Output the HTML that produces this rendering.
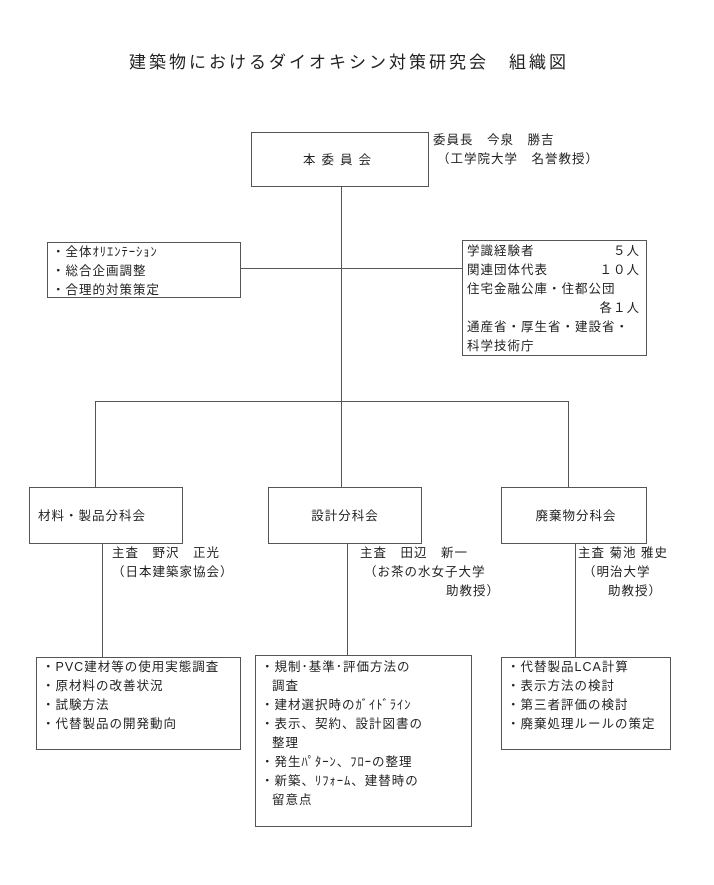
<!DOCTYPE html>
<html><head><meta charset="utf-8"><style>
html,body{margin:0;padding:0;background:#fff;}
svg text{font-family:"Liberation Sans","Noto Sans CJK JP",sans-serif;fill:#222;}
</style></head><body>
<svg width="714" height="880" viewBox="0 0 714 880" xmlns="http://www.w3.org/2000/svg">
<g stroke="#555" stroke-width="1" fill="none">
<rect x="251.5" y="132.5" width="177" height="54"/>
<rect x="47.5" y="242.5" width="193" height="55"/>
<rect x="462.5" y="240.5" width="184" height="115"/>
<line x1="341.5" y1="186" x2="341.5" y2="487"/>
<line x1="240" y1="268.5" x2="462" y2="268.5"/>
<line x1="95" y1="401.5" x2="568" y2="401.5"/>
<line x1="95.5" y1="401" x2="95.5" y2="487"/>
<line x1="568.5" y1="401" x2="568.5" y2="487"/>
<rect x="29.5" y="487.5" width="153" height="56"/>
<rect x="268.5" y="487.5" width="153" height="56"/>
<rect x="501.5" y="487.5" width="145" height="56"/>
<line x1="102.5" y1="543" x2="102.5" y2="657"/>
<line x1="347.5" y1="543" x2="347.5" y2="655"/>
<line x1="575.5" y1="543" x2="575.5" y2="657"/>
<rect x="36.5" y="657.5" width="204" height="92"/>
<rect x="255.5" y="655.5" width="216" height="171"/>
<rect x="501.5" y="657.5" width="169" height="92"/>
</g>
<text x="349" y="68" font-size="17" text-anchor="middle" letter-spacing="3">建築物におけるダイオキシン対策研究会　組織図</text>
<g font-size="12.5" letter-spacing="1">
<text x="340" y="164" text-anchor="middle" letter-spacing="6">本委員会</text>
<text x="433" y="144">委員長　今泉　勝吉</text>
<text x="437" y="163">（工学院大学　名誉教授）</text>
<text x="52" y="256">・全体ｵﾘｴﾝﾃｰｼｮﾝ</text>
<text x="52" y="275">・総合企画調整</text>
<text x="52" y="294">・合理的対策策定</text>
<text x="467" y="255">学識経験者</text><text x="640" y="255" text-anchor="end">５人</text>
<text x="467" y="274">関連団体代表</text><text x="640" y="274" text-anchor="end">１０人</text>
<text x="467" y="293">住宅金融公庫・住都公団</text>
<text x="640" y="312" text-anchor="end">各１人</text>
<text x="467" y="331">通産省・厚生省・建設省・</text>
<text x="467" y="350">科学技術庁</text>
<text x="38" y="520">材料・製品分科会</text>
<text x="345" y="520" text-anchor="middle">設計分科会</text>
<text x="576" y="520" text-anchor="middle">廃棄物分科会</text>
<text x="112" y="557">主査　野沢　正光</text>
<text x="112" y="576">（日本建築家協会）</text>
<text x="360" y="557">主査　田辺　新一</text>
<text x="364" y="576">（お茶の水女子大学</text>
<text x="446" y="595">助教授）</text>
<text x="578" y="557">主査 菊池 雅史</text>
<text x="583" y="576">（明治大学</text>
<text x="608" y="595">助教授）</text>
<text x="42" y="671">・PVC建材等の使用実態調査</text>
<text x="42" y="690">・原材料の改善状況</text>
<text x="42" y="709">・試験方法</text>
<text x="42" y="728">・代替製品の開発動向</text>
<text x="261" y="671">・規制･基準･評価方法の</text>
<text x="272" y="690">調査</text>
<text x="261" y="709">・建材選択時のｶﾞｲﾄﾞﾗｲﾝ</text>
<text x="261" y="728">・表示、契約、設計図書の</text>
<text x="272" y="747">整理</text>
<text x="261" y="766">・発生ﾊﾟﾀｰﾝ、ﾌﾛｰの整理</text>
<text x="261" y="785">・新築、ﾘﾌｫｰﾑ、建替時の</text>
<text x="272" y="804">留意点</text>
<text x="507" y="671">・代替製品LCA計算</text>
<text x="507" y="690">・表示方法の検討</text>
<text x="507" y="709">・第三者評価の検討</text>
<text x="507" y="728">・廃棄処理ルールの策定</text>
</g>
</svg>
</body></html>
